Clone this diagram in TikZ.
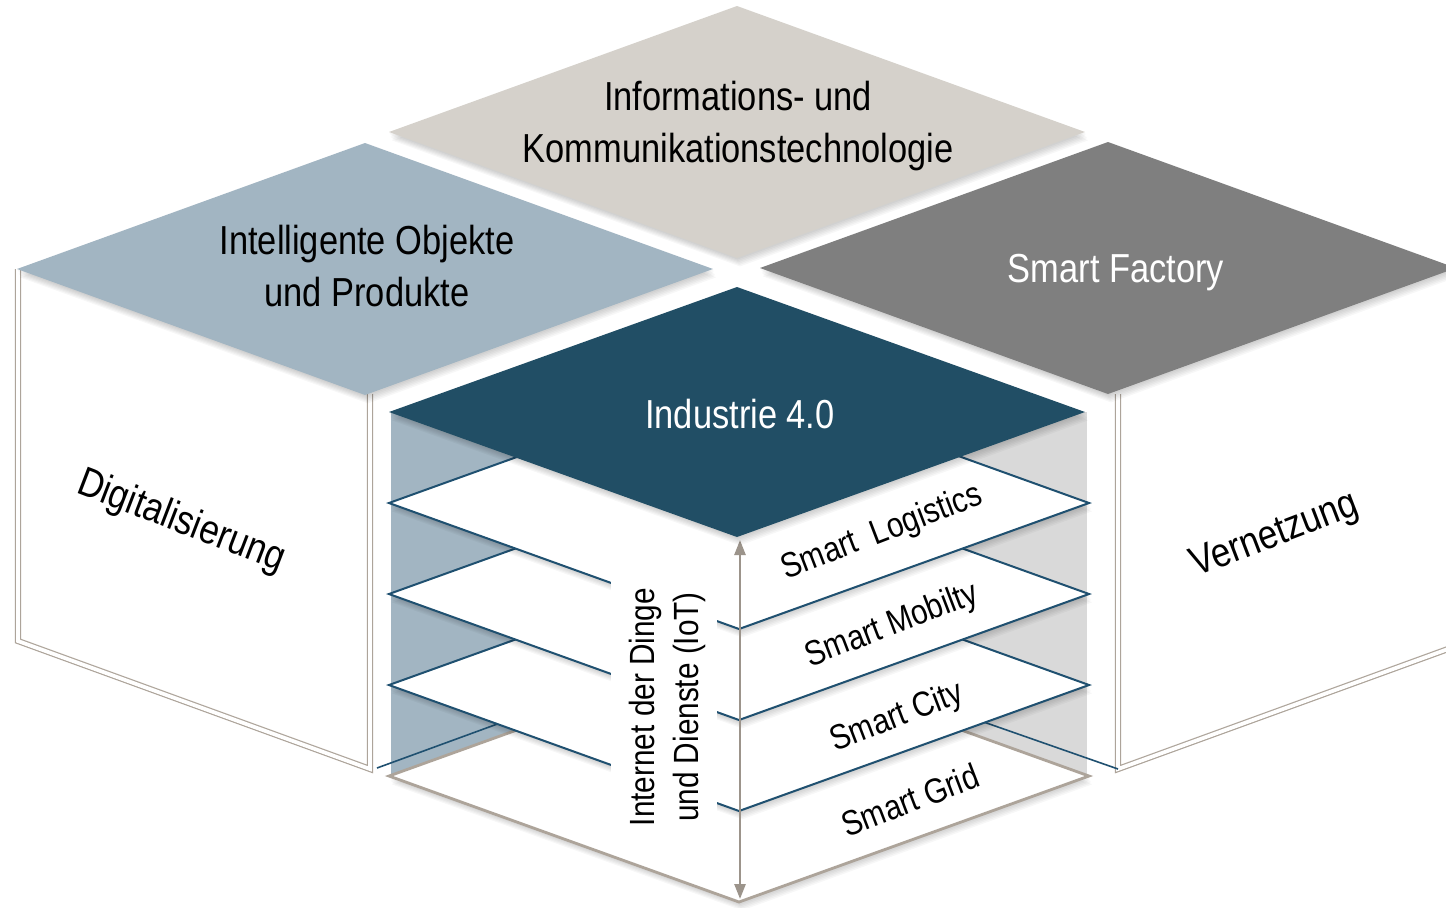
\documentclass[tikz,border=0pt]{standalone}
\usepackage{fontspec}
\setmainfont{Liberation Sans}[FakeStretch=0.85]
\usetikzlibrary{arrows.meta}
\definecolor{ictc}{HTML}{D5D1CB}
\definecolor{ioc}{HTML}{A2B5C2}
\definecolor{sfc}{HTML}{7F7F7F}
\definecolor{indc}{HTML}{214E65}
\definecolor{layc}{HTML}{1F5070}
\definecolor{facer}{HTML}{D9D9D9}
\definecolor{beige}{HTML}{ADA49A}
\newcommand\dmd[4]{(#1-#3,#2) -- (#1,#2-#4) -- (#1+#3,#2) -- (#1,#2+#4) -- cycle}
\newcommand\shd[4]{\foreach \k in {1,...,6}{\fill[black,opacity=0.03,shift={(0.5*\k,1.4*\k)}] \dmd{#1}{#2}{#3}{#4};}}
\begin{document}
\begin{tikzpicture}[x=0.5pt,y=-0.5pt,
  boxline/.style={draw=beige,line width=0.6pt,double=white,double distance=1.9pt},
  toplbl/.style={align=center,font=\fontsize{20.25}{26}\selectfont,inner sep=0},
  sidelbl/.style={font=\fontsize{20.5}{24}\selectfont,inner sep=0},
  laylbl/.style={font=\fontsize{17.5}{20}\selectfont,inner sep=0},
  layer/.style={fill=white,draw=layc,line width=1pt},
  arrowline/.style={draw=beige!90!black,line width=1.3pt,{Triangle[width=5.5pt,length=7.5pt]}-{Triangle[width=5.5pt,length=7.5pt]}}
]
\useasboundingbox (0,0) rectangle (1446,907);
\clip (0,0) rectangle (1446,907);
\fill[white] (0,0) rectangle (1446,907);

% side boxes
\draw[boxline] (18,269) -- (18,641) -- (370,769) -- (370,394);
\draw[boxline] (1118,394) -- (1118,769) -- (1470,641);

% faces of the central box
\fill[ioc] (391,412) rectangle (739,776);
\fill[facer] (739,412) rectangle (1087,776);

% back edges
\coordinate (bl) at (377,768);
\coordinate (bm) at (738,636);
\coordinate (br) at (1118,769);
\draw[layc,line width=0.8pt] (bl) -- (bm) -- (br);

% layers
\shd{739}{776}{350}{126}
\filldraw[fill=white,draw=beige,line width=1.4pt] \dmd{739}{776}{350}{126};
\foreach \yy in {685,594,503}{
  \shd{739}{\yy}{350}{126}
  \filldraw[layer] \dmd{739}{\yy}{350}{126};
}

% backing of the IoT label
\fill[white] (611,575) rectangle (717,848);

% arrow
\coordinate (atop) at (740,540);
\coordinate (abot) at (740,899);
\draw[arrowline] (atop) -- (abot);

% top diamonds
\shd{737}{132}{348}{126}
\fill[ictc] \dmd{737}{132}{348}{126};
\shd{365}{269}{348}{126}
\fill[ioc] \dmd{365}{269}{348}{126};
\shd{1108}{268}{348}{126}
\fill[sfc] \dmd{1108}{268}{348}{126};
\shd{737}{412}{348}{125}
\fill[indc] \dmd{737}{412}{348}{125};

% labels
\node[toplbl] (ict) at (738,126) {Informations- und\\Kommunikationstechnologie};
\node[toplbl] (io) at (367,266) {Intelligente Objekte\\und Produkte};
\node[toplbl,text=white] (sf) at (1116,273) {Smart Factory};
\node[toplbl,text=white] (ind) at (740,414) {Industrie 4.0};
\node[sidelbl,rotate=-21] (dig) at (181,522) {Digitalisierung};
\node[sidelbl,rotate=21] (ver) at (1275,536) {Vernetzung};
\node[laylbl,rotate=21] (l1) at (882,533) {Smart\ \ Logistics};
\node[laylbl,rotate=21] (l2) at (892,626) {Smart Mobilty};
\node[laylbl,rotate=21] (l3) at (897,718) {Smart City};
\node[laylbl,rotate=21] (l4) at (910,800) {Smart Grid};
\node[laylbl,rotate=90,align=center,font=\fontsize{17.5}{22}\selectfont] (iot) at (667,707) {Internet der Dinge\\und Dienste (IoT)};
\end{tikzpicture}
\end{document}
